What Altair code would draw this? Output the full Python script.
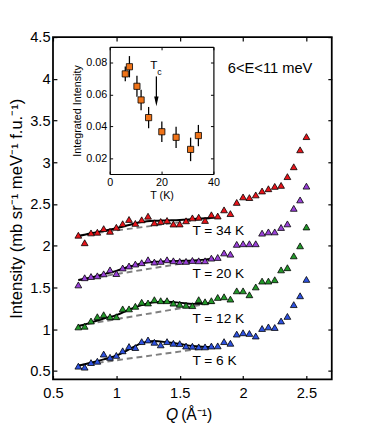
import altair as alt
import pandas as pd

# ---------------- main panel data ----------------
q = [0.70, 0.75, 0.80, 0.85, 0.90, 0.95, 1.00, 1.05, 1.10, 1.15, 1.20, 1.25,
     1.30, 1.35, 1.40, 1.45, 1.50, 1.55, 1.60, 1.65, 1.70, 1.75, 1.80, 1.85,
     1.90, 1.95, 2.00, 2.05, 2.10, 2.15, 2.20, 2.25, 2.30, 2.35, 2.40, 2.45, 2.50]

i_34k = [2.127, 2.037, 2.155, 2.163, 2.206, 2.174, 2.222, 2.265, 2.316, 2.269, 2.312, 2.355,
         2.276, 2.292, 2.304, 2.261, 2.262, 2.300, 2.335, 2.343, 2.304, 2.372, 2.357, 2.431,
         2.386, 2.520, 2.586, 2.578, 2.610, 2.657, 2.684, 2.712, 2.724, 2.829, 2.947, 3.150, 3.308]
i_20k = [1.532, 1.618, 1.633, 1.641, 1.665, 1.712, 1.668, 1.735, 1.759, 1.782, 1.798, 1.833,
         1.806, 1.814, 1.833, 1.821, 1.814, 1.814, 1.825, 1.821, 1.821, 1.853, 1.861, 1.915,
         1.900, 2.018, 2.025, 2.025, 2.025, 2.152, 2.167, 2.167, 2.220, 2.263, 2.449, 2.550, 2.715]
i_12k = [1.029, 1.037, 1.100, 1.151, 1.175, 1.151, 1.151, 1.245, 1.245, 1.276, 1.324, 1.316,
         1.355, 1.343, 1.343, 1.314, 1.300, 1.288, 1.284, 1.355, 1.330, 1.343, 1.382, 1.390,
         1.362, 1.461, 1.461, 1.414, 1.508, 1.578, 1.578, 1.594, 1.712, 1.738, 1.880, 2.000, 2.226]
i_6k = [0.559, 0.547, 0.602, 0.618, 0.704, 0.665, 0.688, 0.743, 0.794, 0.782, 0.853, 0.873,
        0.845, 0.814, 0.853, 0.833, 0.829, 0.800, 0.798, 0.790, 0.790, 0.800, 0.802, 0.853,
        0.833, 0.943, 0.959, 0.951, 0.920, 1.010, 1.029, 1.022, 1.100, 1.155, 1.296, 1.402, 1.598]

series_names = ["T = 34 K", "T = 20 K", "T = 12 K", "T = 6 K"]
series_colors = ["#e8141a", "#9940d8", "#23982a", "#2e52e0"]

# fitted curves (black) and background lines (grey dashed)
fit_q = [0.70, 0.80, 0.90, 1.00, 1.10, 1.20, 1.30, 1.40, 1.50, 1.60, 1.70, 1.77]
fit_34k = [2.115, 2.150, 2.180, 2.210, 2.250, 2.285, 2.300, 2.305, 2.310, 2.320, 2.330, 2.335]
fit_20k = [1.590, 1.620, 1.660, 1.700, 1.750, 1.790, 1.810, 1.815, 1.820, 1.825, 1.835, 1.845]
fit_12k = [1.035, 1.080, 1.130, 1.170, 1.235, 1.290, 1.325, 1.330, 1.320, 1.305, 1.310, 1.320]
fit_6k = [0.565, 0.600, 0.640, 0.685, 0.760, 0.835, 0.860, 0.845, 0.825, 0.800, 0.790, 0.790]

base_q = [0.70, 1.77]
base_34k = [2.125, 2.335]
base_20k = [1.588, 1.850]
base_12k = [1.045, 1.320]
base_6k = [0.567, 0.790]

label_q = [1.60, 1.60, 1.60, 1.60]
label_i = [2.176, 1.665, 1.127, 0.618]

energy_text = ["6<E<11 meV"]
energy_q = [1.88]
energy_i = [4.13]

x_ticks = [0.5, 1.0, 1.5, 2.0, 2.5]
y_ticks = [0.5, 1.0, 1.5, 2.0, 2.5, 3.0, 3.5, 4.0, 4.5]
x_domain = [0.5, 2.7]
y_domain = [0.4, 4.5]

# ---------------- inset data ----------------
inset_t = [6.0, 7.6, 10.5, 12.1, 15.0, 20.1, 25.6, 31.2, 34.2]
inset_val = [0.0730, 0.0775, 0.0652, 0.0566, 0.0455, 0.0366, 0.0331, 0.0255, 0.0342]
inset_err = [0.0046, 0.0067, 0.0066, 0.0064, 0.0067, 0.0064, 0.0067, 0.0074, 0.0067]
inset_x_ticks = [0, 20, 40]
inset_y_ticks = [0.02, 0.04, 0.06, 0.08]
inset_x_domain = [0, 40]
inset_y_domain = [0.01, 0.09]
tc_t = [18.0]
tc_top = [0.0714]
tc_tip = [0.0557]
tc_text_t = [17.0]
tc_text_v = [0.0785]
tc_sub_t = [19.2]
tc_sub_v = [0.0740]

# ---------------- layout ----------------
FONT = "Liberation Sans, Arial, Helvetica, sans-serif"
W, H = 285, 350
IN_L, IN_R, IN_T, IN_B = 58, 164, 10, 140  # inset box inside the plot area

# ---------------- tables ----------------
pts = pd.concat([
    pd.DataFrame({"Q": q, "I": v, "series": n})
    for v, n in zip([i_34k, i_20k, i_12k, i_6k], series_names)
], ignore_index=True)
fits = pd.concat([
    pd.DataFrame({"Q": fit_q, "I": v, "series": n})
    for v, n in zip([fit_34k, fit_20k, fit_12k, fit_6k], series_names)
], ignore_index=True)
bases = pd.concat([
    pd.DataFrame({"Q": base_q, "I": v, "series": n})
    for v, n in zip([base_34k, base_20k, base_12k, base_6k], series_names)
], ignore_index=True)
labels_df = pd.DataFrame({"Q": label_q, "I": label_i, "text": series_names})
energy_df = pd.DataFrame({"Q": energy_q, "I": energy_i, "text": energy_text})
xtitle_q = pd.DataFrame({"text": ["Q"]})
xtitle_rest = pd.DataFrame({"text": ["(Å\u207b\u00b9)"]})

inset_df = pd.DataFrame({"T": inset_t, "v": inset_val, "e": inset_err})
inset_df["lo"] = inset_df["v"] - inset_df["e"]
inset_df["hi"] = inset_df["v"] + inset_df["e"]
tc_df = pd.DataFrame({"T": tc_t, "top": tc_top, "tip": tc_tip})
tc_text_df = pd.DataFrame({"T": tc_text_t, "v": tc_text_v, "text": ["T"]})
tc_sub_df = pd.DataFrame({"T": tc_sub_t, "v": tc_sub_v, "text": ["c"]})

# ---------------- scales / axes ----------------
xs = alt.Scale(domain=x_domain, nice=False, zero=False)
ys = alt.Scale(domain=y_domain, nice=False, zero=False)
ixs = alt.Scale(domain=inset_x_domain, range=[IN_L, IN_R], nice=False, zero=False)
iys = alt.Scale(domain=inset_y_domain, range=[IN_B, IN_T], nice=False, zero=False)

tick_common = dict(labels=False, grid=False, ticks=True, tickColor="black", title=None)

ax_x_labels = alt.Axis(orient="bottom", values=x_ticks, format="~g", ticks=False, tickSize=0,
                       domain=False, grid=False, labelPadding=6, labelFontSize=15,
                       labelFlush=False, title=None)
ax_y_labels = alt.Axis(orient="left", values=y_ticks, format="~g", ticks=False, tickSize=0,
                       domain=False, grid=False, labelPadding=3, labelFontSize=15,
                       title="Intensity (mb sr\u207b\u00b9 meV\u207b\u00b9 f.u.\u207b\u00b9)",
                       titleFontSize=17, titlePadding=4)
ax_x_tick_bottom = alt.Axis(orient="top", offset=-H, values=x_ticks, domain=False,
                            tickSize=4, tickWidth=1.2, **tick_common)
ax_x_tick_top = alt.Axis(orient="bottom", offset=-H, values=x_ticks, domain=False,
                         tickSize=4, tickWidth=1.2, **tick_common)
ax_y_tick_left = alt.Axis(orient="right", offset=-W, values=y_ticks, domain=False,
                          tickSize=4, tickWidth=1.2, **tick_common)
ax_y_tick_right = alt.Axis(orient="left", offset=-W, values=y_ticks, domain=False,
                           tickSize=4, tickWidth=1.2, **tick_common)

ins_x_labels = alt.Axis(orient="bottom", offset=IN_B - H, values=inset_x_ticks, format="d",
                        ticks=False, tickSize=0, domain=True, domainColor="black",
                        domainWidth=1.2, grid=False, labelPadding=3, labelFontSize=11,
                        labelFlush=False, title="T (K)", titleFontSize=11, titlePadding=2)
ins_y_labels = alt.Axis(orient="left", offset=-IN_L, values=inset_y_ticks, format=".2f",
                        ticks=False, tickSize=0, domain=True, domainColor="black",
                        domainWidth=1.2, grid=False, labelPadding=3, labelFontSize=11,
                        title="Integrated Intensity", titleFontSize=11, titlePadding=3)
ins_x_tick_bottom = alt.Axis(orient="top", offset=-IN_B, values=inset_x_ticks, domain=False,
                             tickSize=3, tickWidth=1, **tick_common)
ins_y_tick_left = alt.Axis(orient="right", offset=IN_L - W, values=inset_y_ticks, domain=False,
                           tickSize=3, tickWidth=1, **tick_common)
ins_x_tick_top = alt.Axis(orient="bottom", offset=IN_T - H, values=inset_x_ticks, domain=True,
                          domainColor="black", domainWidth=1.2, tickSize=3, tickWidth=1,
                          **tick_common)
ins_y_tick_right = alt.Axis(orient="left", offset=-IN_R, values=inset_y_ticks, domain=True,
                            domainColor="black", domainWidth=1.2, tickSize=3, tickWidth=1,
                            **tick_common)

color_scale = alt.Scale(domain=series_names, range=series_colors)

# ---------------- main layers ----------------
base_layer = alt.Chart(bases).mark_line(color="#808080", strokeWidth=2, strokeDash=[6, 4]).encode(
    x=alt.X("Q:Q", scale=xs, axis=ax_x_tick_bottom),
    y=alt.Y("I:Q", scale=ys, axis=ax_y_tick_left),
    detail="series:N",
)
fit_layer = alt.Chart(fits).mark_line(color="black", strokeWidth=2, interpolate="monotone").encode(
    x=alt.X("Q:Q", scale=xs, axis=ax_x_tick_top),
    y=alt.Y("I:Q", scale=ys, axis=ax_y_tick_right),
    detail="series:N",
)
pts_layer = alt.Chart(pts).mark_point(shape="triangle-up", filled=True, size=48, stroke="black",
                                      strokeWidth=0.8, opacity=1).encode(
    x=alt.X("Q:Q", scale=xs, axis=ax_x_labels),
    y=alt.Y("I:Q", scale=ys, axis=ax_y_labels),
    fill=alt.Fill("series:N", scale=color_scale, legend=None),
)
label_layer = alt.Chart(labels_df).mark_text(align="left", baseline="middle", fontSize=14,
                                             color="black", font=FONT).encode(
    x=alt.X("Q:Q", scale=xs, axis=None),
    y=alt.Y("I:Q", scale=ys, axis=None),
    text="text:N",
)
energy_layer = alt.Chart(energy_df).mark_text(align="left", baseline="middle", fontSize=15,
                                              color="black", font=FONT).encode(
    x=alt.X("Q:Q", scale=xs, axis=None),
    y=alt.Y("I:Q", scale=ys, axis=None),
    text="text:N",
)
xt_q_layer = alt.Chart(xtitle_q).mark_text(align="right", baseline="middle", fontSize=16,
                                           fontStyle="italic", color="black", font=FONT).encode(
    x=alt.value(128), y=alt.value(386), text="text:N")
xt_rest_layer = alt.Chart(xtitle_rest).mark_text(align="left", baseline="middle", fontSize=16,
                                                 color="black", font=FONT).encode(
    x=alt.value(131), y=alt.value(386), text="text:N")

main = alt.layer(base_layer, fit_layer, pts_layer, label_layer, energy_layer,
                 xt_q_layer, xt_rest_layer).resolve_axis(x="independent", y="independent")

# ---------------- inset layers ----------------
err_layer = alt.Chart(inset_df).mark_rule(color="black", strokeWidth=1.3).encode(
    x=alt.X("T:Q", scale=ixs, axis=ins_x_tick_bottom),
    y=alt.Y("lo:Q", scale=iys, axis=ins_y_tick_left),
    y2="hi:Q",
)
sq_layer = alt.Chart(inset_df).mark_square(size=40, filled=True, color="#f07318", stroke="black",
                                           strokeWidth=0.8, opacity=1).encode(
    x=alt.X("T:Q", scale=ixs, axis=ins_x_labels),
    y=alt.Y("v:Q", scale=iys, axis=ins_y_labels),
)
arrow_layer = alt.Chart(tc_df).mark_rule(color="black", strokeWidth=1.3).encode(
    x=alt.X("T:Q", scale=ixs, axis=ins_x_tick_top),
    y=alt.Y("top:Q", scale=iys, axis=ins_y_tick_right),
    y2="tip:Q",
)
head_layer = alt.Chart(tc_df).mark_point(shape="M-0.45,-1L0.45,-1L0,1Z", size=100, filled=True,
                                         color="black", opacity=1).encode(
    x=alt.X("T:Q", scale=ixs, axis=None),
    y=alt.Y("tip:Q", scale=iys, axis=None),
)
tc_layer = alt.Chart(tc_text_df).mark_text(align="center", baseline="middle", fontSize=12,
                                           color="black", font=FONT).encode(
    x=alt.X("T:Q", scale=ixs, axis=None),
    y=alt.Y("v:Q", scale=iys, axis=None),
    text="text:N",
)
tc_sub_layer = alt.Chart(tc_sub_df).mark_text(align="center", baseline="middle", fontSize=9,
                                              color="black", font=FONT).encode(
    x=alt.X("T:Q", scale=ixs, axis=None),
    y=alt.Y("v:Q", scale=iys, axis=None),
    text="text:N",
)

inset = alt.layer(err_layer, sq_layer, arrow_layer, head_layer, tc_layer,
                  tc_sub_layer).resolve_axis(x="independent", y="independent")

chart = alt.layer(main, inset).resolve_scale(
    x="independent", y="independent"
).properties(
    width=W, height=H,
    padding={"left": 46, "top": 25, "right": 35, "bottom": 49},
    autosize=alt.AutoSizeParams(type="none"),
    background="white",
).configure(
    font=FONT,
).configure_axis(
    labelFont=FONT, titleFont=FONT, labelColor="black", titleColor="black",
    titleFontWeight="normal",
).configure_view(
    stroke="black", strokeWidth=1.8,
)

chart.save("out.html", embed_options={"renderer": "svg", "actions": False})
